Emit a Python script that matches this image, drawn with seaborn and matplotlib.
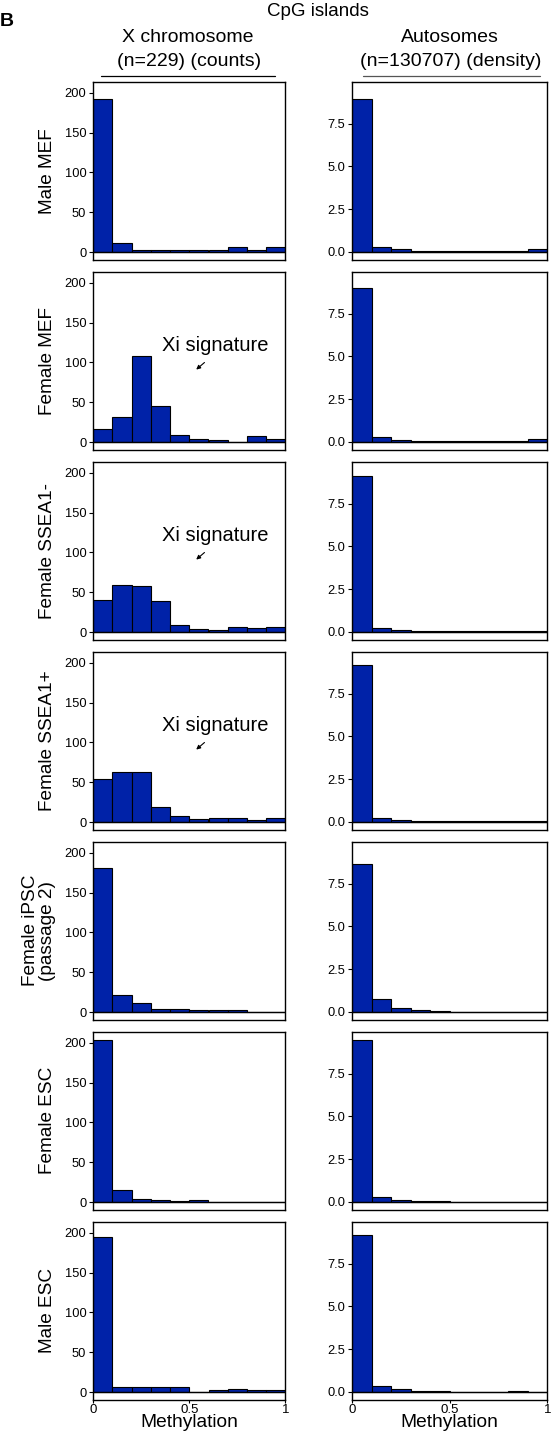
import numpy as np
import pandas as pd
import matplotlib
matplotlib.use("Agg")
import matplotlib.pyplot as plt
import seaborn as sns

# --- Data ---
samples = ["Male MEF", "Female MEF", "Female SSEA1-", "Female SSEA1+",
           "Female iPSC\n(passage 2)", "Female ESC", "Male ESC"]
bin_edges = np.linspace(0, 1, 11)
bin_centers = (bin_edges[:-1] + bin_edges[1:]) / 2

# X chromosome counts per methylation bin (n=229)
x_male_mef = [192, 11, 2, 3, 2, 2, 2, 6, 3, 6]
x_female_mef = [17, 31, 108, 45, 9, 4, 3, 0, 8, 4]
x_female_ssea1_neg = [40, 59, 58, 39, 9, 4, 3, 6, 5, 6]
x_female_ssea1_pos = [54, 63, 63, 19, 8, 4, 5, 5, 3, 5]
x_female_ipsc = [181, 21, 11, 4, 4, 3, 2, 3, 0, 0]
x_female_esc = [204, 15, 4, 3, 1, 2, 0, 0, 0, 0]
x_male_esc = [195, 6, 6, 6, 6, 0, 2, 4, 2, 2]

# Autosome densities per methylation bin (n=130707)
a_male_mef = [8.93, 0.30, 0.15, 0.07, 0.04, 0.03, 0.03, 0.04, 0.07, 0.15]
a_female_mef = [8.99, 0.27, 0.12, 0.05, 0.03, 0.03, 0.03, 0.03, 0.07, 0.17]
a_female_ssea1_neg = [9.10, 0.25, 0.12, 0.06, 0.04, 0.04, 0.04, 0.05, 0.06, 0.08]
a_female_ssea1_pos = [9.20, 0.25, 0.10, 0.06, 0.04, 0.03, 0.03, 0.04, 0.06, 0.05]
a_female_ipsc = [8.66, 0.78, 0.21, 0.10, 0.05, 0.02, 0.02, 0.02, 0.02, 0.02]
a_female_esc = [9.45, 0.28, 0.12, 0.06, 0.04, 0.02, 0.02, 0.01, 0.01, 0.01]
a_male_esc = [9.15, 0.37, 0.16, 0.08, 0.04, 0.02, 0.02, 0.02, 0.03, 0.02]

x_counts = [x_male_mef, x_female_mef, x_female_ssea1_neg, x_female_ssea1_pos,
            x_female_ipsc, x_female_esc, x_male_esc]
a_dens = [a_male_mef, a_female_mef, a_female_ssea1_neg, a_female_ssea1_pos,
          a_female_ipsc, a_female_esc, a_male_esc]
xi_rows = [1, 2, 3]

BAR = "#0022a8"

sns.set_style("white")
plt.rcParams["font.family"] = ["Liberation Sans", "DejaVu Sans"]
plt.rcParams["text.color"] = "black"
plt.rcParams["axes.labelcolor"] = "black"

W, H = 557, 1438
fig = plt.figure(figsize=(W / 100, H / 100), dpi=100)

left_x, left_w = 93.3, 192
right_x, right_w = 352.3, 195
top0, row_step, ax_h = 81.7, 190, 178


def make_ax(x0, w, top):
    return fig.add_axes([x0 / W, 1 - (top + ax_h) / H, w / W, ax_h / H])


for i, name in enumerate(samples):
    top = top0 + i * row_step
    last = i == len(samples) - 1
    for col, (vals, ylim, yticks, ylabs) in enumerate([
        (x_counts[i], (-9.6, 214), [0, 50, 100, 150, 200], ["0", "50", "100", "150", "200"]),
        (a_dens[i], (-0.45, 9.95), [0, 2.5, 5, 7.5], ["0.0", "2.5", "5.0", "7.5"]),
    ]):
        ax = make_ax(left_x, left_w, top) if col == 0 else make_ax(right_x, right_w, top)
        df = pd.DataFrame({"m": bin_centers, "w": vals})
        sns.histplot(data=df, x="m", weights="w", binwidth=0.1, binrange=(0, 1),
                     stat="count", color=BAR, alpha=1, edgecolor="black",
                     linewidth=0.8, ax=ax)
        ax.axhline(0, color="black", lw=1)
        ax.set_xlim(0, 1)
        ax.set_ylim(*ylim)
        ax.set_yticks(yticks)
        ax.set_yticklabels(ylabs)
        ax.set_ylabel("")
        ax.set_xlabel("")
        for s in ax.spines.values():
            s.set_color("black")
            s.set_linewidth(1)
        ax.tick_params(axis="y", left=True, length=3, width=0.8, labelsize=9.3,
                       colors="black", pad=2)
        if last:
            ax.set_xticks([0, 0.5, 1])
            ax.set_xticklabels(["0", "0.5", "1"])
            ax.tick_params(axis="x", bottom=True, length=2, width=0.8, labelsize=9.5,
                           colors="black", pad=1)
            ax.set_xlabel("Methylation", fontsize=13.8, labelpad=-1)
        else:
            ax.set_xticks([])
        if col == 0:
            ax.set_ylabel(name, fontsize=13.7, labelpad=6, linespacing=1.0)
            if i in xi_rows:
                ax.text(0.635, 0.585, "Xi signature", transform=ax.transAxes,
                        ha="center", va="center", fontsize=14.5)
                ax.annotate("", xy=(0.525, 0.44), xytext=(0.59, 0.5),
                            xycoords="axes fraction", textcoords="axes fraction",
                            arrowprops=dict(arrowstyle="-|>", color="black",
                                            lw=0.8, mutation_scale=6))

# headers
fig.text(318 / W, 1 - 12 / H, "CpG islands", ha="center", va="center", fontsize=13.5)
fig.text(188 / W, 1 - 37 / H, "X chromosome", ha="center", va="center", fontsize=14)
fig.text(189 / W, 1 - 61 / H, "(n=229) (counts)", ha="center", va="center", fontsize=14)
fig.text(450 / W, 1 - 37 / H, "Autosomes", ha="center", va="center", fontsize=14)
fig.text(451 / W, 1 - 61 / H, "(n=130707) (density)", ha="center", va="center", fontsize=14)
fig.add_artist(plt.Line2D([101 / W, 275 / W], [1 - 76 / H, 1 - 76 / H], color="black", lw=0.9))
fig.add_artist(plt.Line2D([363 / W, 540 / W], [1 - 76 / H, 1 - 76 / H], color="#555555", lw=0.9))
fig.text(0.0, 1 - 22 / H, "B", ha="left", va="center", fontsize=14, fontweight="bold")

fig.savefig("out.png", dpi=100)
